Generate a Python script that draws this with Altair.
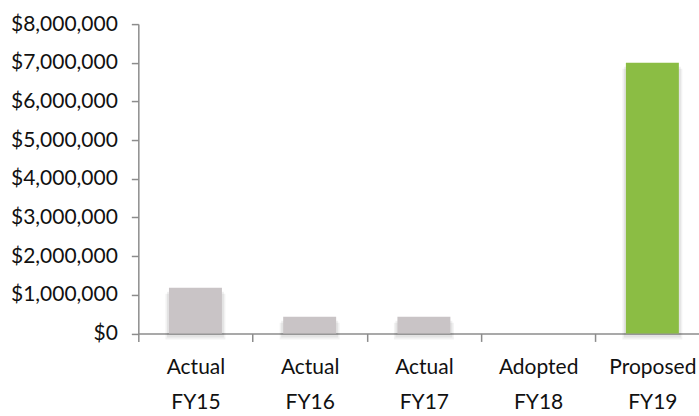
import altair as alt
import pandas as pd

# Budget by fiscal year
categories = ["Actual FY15", "Actual FY16", "Actual FY17", "Adopted FY18", "Proposed FY19"]
amounts = [1180000, 430000, 430000, 0, 7000000]
groups = ["Prior", "Prior", "Prior", "Prior", "Proposed"]
y_ticks = [0, 1000000, 2000000, 3000000, 4000000, 5000000, 6000000, 7000000, 8000000]

df = pd.DataFrame({"category": categories, "amount": amounts, "group": groups})

AXIS_GRAY = "#8c8c8c"
TEXT = "#111111"
FONT = "Lato"

x_enc = alt.X(
    "category:N",
    sort=categories,
    title=None,
    scale=alt.Scale(range=[0, 571.5], paddingInner=0, paddingOuter=0),
    axis=alt.Axis(
        labelAngle=0,
        labelExpr="split(datum.label, ' ')",
        labelFont=FONT,
        labelFontSize=21,
        labelColor=TEXT,
        labelLineHeight=35,
        labelPadding=15,
        tickBand="extent",
        tickSize=8,
        tickWidth=1.5,
        tickColor=AXIS_GRAY,
        domainColor=AXIS_GRAY,
        domainWidth=1.5,
    ),
)

y_enc = alt.Y(
    "amount:Q",
    title=None,
    scale=alt.Scale(domain=[0, 8000000], nice=False),
    axis=alt.Axis(
        values=y_ticks,
        format="$,.0f",
        grid=False,
        labelFont=FONT,
        labelFontSize=21,
        labelColor=TEXT,
        labelPadding=14,
        tickSize=7,
        tickWidth=1.5,
        tickColor=AXIS_GRAY,
        domainColor=AXIS_GRAY,
        domainWidth=1.5,
    ),
)

color_enc = alt.Color(
    "group:N",
    scale=alt.Scale(domain=["Prior", "Proposed"], range=["#c9c4c6", "#8bbd44"]),
    legend=None,
)

base = alt.Chart(df)

# soft drop shadow behind each non-zero bar
shadow_outer = base.transform_filter("datum.amount > 0").mark_bar(
    width=60, yOffset=6, color="#000000", opacity=0.05
).encode(x=x_enc, y=y_enc)
shadow_inner = base.transform_filter("datum.amount > 0").mark_bar(
    width=57, yOffset=4, color="#000000", opacity=0.06
).encode(x=x_enc, y=y_enc)

bars = base.mark_bar(width=53).encode(x=x_enc, y=y_enc, color=color_enc)

chart = (
    alt.layer(shadow_outer, shadow_inner, bars)
    .properties(
        width=561,
        height=309.5,
        autosize=alt.AutoSizeParams(type="none"),
        padding={"left": 138.4, "top": 24, "right": 0, "bottom": 82.5},
        background="white",
    )
    .configure_view(stroke=None)
)

chart.save("out.html", embed_options={"renderer": "svg", "actions": False})
